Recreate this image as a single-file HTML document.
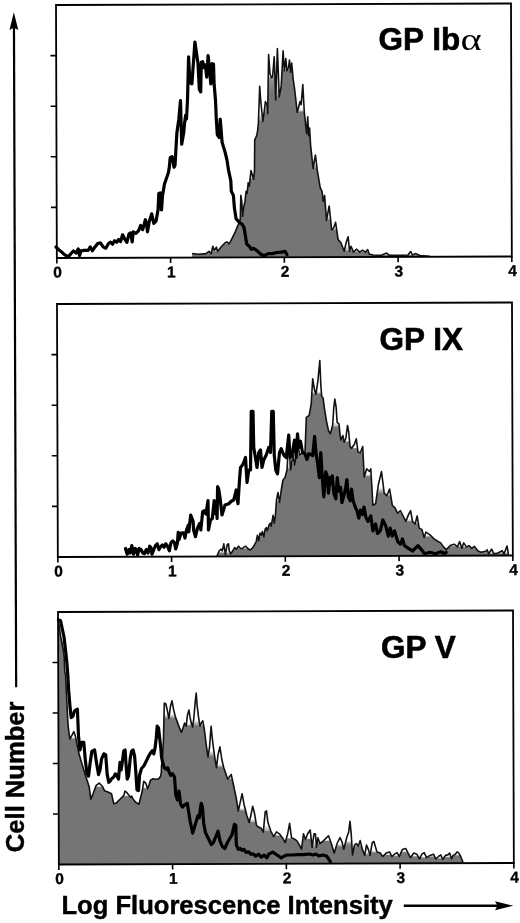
<!DOCTYPE html><html><head><meta charset="utf-8"><title>Flow cytometry histograms</title><style>html,body{margin:0;padding:0;background:#fff;width:520px;height:923px;overflow:hidden}svg{display:block}text{font-family:"Liberation Sans",Arial,Helvetica,sans-serif;font-weight:bold;fill:#000}.num{font-family:"Liberation Sans",Arial,sans-serif;font-size:15.5px;font-weight:bold;stroke:#000;stroke-width:0.35px}.lab{stroke:#000;stroke-width:0.6px}.ax{stroke:#000;stroke-width:0.45px}.ser{font-family:"Liberation Serif","Times New Roman",serif;font-weight:normal}</style></head><body>
<svg width="520" height="923" viewBox="0 0 520 923">
<defs><filter id="op" x="-5%" y="-5%" width="110%" height="110%"><feMorphology operator="erode" radius="2.6"/><feMorphology operator="dilate" radius="2.6"/></filter></defs>
<defs><clipPath id="c0"><polygon points="56,5 511,3.45 511.86,256.45 56.86,258"/></clipPath><clipPath id="c1"><polygon points="57.02,304 512.02,302.45 512.88,555.45 57.88,557"/></clipPath><clipPath id="c2"><polygon points="58.06,612 513.06,610.45 513.92,862.95 58.92,864.5"/></clipPath></defs>
<g clip-path="url(#c0)"><polygon points="192.1,265.54 192.1,253.6 198.5,254.2 205.9,253.6 209,251.4 211.2,253.6 212.8,246.2 214.3,250.4 216.4,247.2 217.5,251.4 221.7,246.2 224.9,243 227,241.9 229.1,244 231.3,239.8 233.4,235.6 235.5,231.3 237.6,226.1 239.7,221.8 240.3,218.7 240.8,195.4 241.8,201.7 242.5,216.5 243.9,206 245,201.7 246.1,191.2 247.1,193.3 248.2,182.7 249.3,186.2 251,170.6 253.6,179.3 254.5,170.6 254.7,139.9 256.5,136 257.5,131.6 258.4,123 259.7,86.2 260.8,101.5 262.8,121.5 264.3,110.8 265.4,101.5 266.9,104.6 267.7,113.8 268.6,54.6 270,73.8 271.5,77.7 272.6,76.9 274.2,56.9 275.7,100 277.4,48.5 279.2,96.9 281.2,86.2 283.1,50.8 284.3,70.8 285.8,58.5 286.9,70.8 288.5,67.7 289.5,60 290.5,72.3 291.7,63.1 293.1,78.5 294.6,89.2 295.7,98.5 297.2,112.3 298.5,107.7 300,101.5 301.2,104.6 302.8,84.6 304.3,112.3 305.8,126.2 306.7,133.8 307.7,116.9 308.7,135.8 309.6,128 310.6,145.4 313.1,168.5 315.4,155 317.3,170.4 320.2,187.7 322.1,191.5 323.1,201.2 324.6,195.4 326.5,220.4 329.2,206 331.7,230 333.7,228 335.6,222.3 338.1,239.6 340.8,242.5 344.2,251.2 346.2,242.5 348.1,236.7 349.6,251.2 351,246.3 353.5,252.1 356.7,249.2 359.6,252.1 362.5,250.2 365.4,252.1 367.7,249.6 369.2,254 373,255 380.8,255.4 386.5,253.1 389.4,255.4 400,255.4 408,255 410.7,251.5 412.5,255 415.3,253.6 420,255.5 429.8,256.2 429.8,264.73" fill="#747474" filter="url(#op)"/></g>
<polyline points="192.1,253.6 198.5,254.2 205.9,253.6 209,251.4 211.2,253.6 212.8,246.2 214.3,250.4 216.4,247.2 217.5,251.4 221.7,246.2 224.9,243 227,241.9 229.1,244 231.3,239.8 233.4,235.6 235.5,231.3 237.6,226.1 239.7,221.8 240.3,218.7 240.8,195.4 241.8,201.7 242.5,216.5 243.9,206 245,201.7 246.1,191.2 247.1,193.3 248.2,182.7 249.3,186.2 251,170.6 253.6,179.3 254.5,170.6 254.7,139.9 256.5,136 257.5,131.6 258.4,123 259.7,86.2 260.8,101.5 262.8,121.5 264.3,110.8 265.4,101.5 266.9,104.6 267.7,113.8 268.6,54.6 270,73.8 271.5,77.7 272.6,76.9 274.2,56.9 275.7,100 277.4,48.5 279.2,96.9 281.2,86.2 283.1,50.8 284.3,70.8 285.8,58.5 286.9,70.8 288.5,67.7 289.5,60 290.5,72.3 291.7,63.1 293.1,78.5 294.6,89.2 295.7,98.5 297.2,112.3 298.5,107.7 300,101.5 301.2,104.6 302.8,84.6 304.3,112.3 305.8,126.2 306.7,133.8 307.7,116.9 308.7,135.8 309.6,128 310.6,145.4 313.1,168.5 315.4,155 317.3,170.4 320.2,187.7 322.1,191.5 323.1,201.2 324.6,195.4 326.5,220.4 329.2,206 331.7,230 333.7,228 335.6,222.3 338.1,239.6 340.8,242.5 344.2,251.2 346.2,242.5 348.1,236.7 349.6,251.2 351,246.3 353.5,252.1 356.7,249.2 359.6,252.1 362.5,250.2 365.4,252.1 367.7,249.6 369.2,254 373,255 380.8,255.4 386.5,253.1 389.4,255.4 400,255.4 408,255 410.7,251.5 412.5,255 415.3,253.6 420,255.5 429.8,256.2" fill="none" stroke="#111" stroke-width="1.6" stroke-linejoin="round"/>
<polyline points="56,247 57.3,248.2 59.4,250.3 62.1,252.3 64.1,254.3 66.8,256.3 69.5,255.6 71.5,253 73.5,250.9 76.2,253 78.2,248.9 79.6,255.6 80.9,250.9 84.3,250.3 88.3,250.3 90.3,246.9 92.3,250.9 95,246.9 97.7,243.5 100.4,242.9 103.1,246.9 105.8,248.2 108.5,243.5 110.5,242.2 112.5,244.2 114.5,240.8 116.6,242.2 118.6,239.5 120.6,241.5 122.6,234.8 124.8,239.2 126.9,242.4 129,233.9 130.6,232.9 132.2,241.9 133.2,231.8 135.9,233.4 138.5,230.8 140.6,225.5 142.7,229.7 145.4,219.7 146.4,223.4 147.5,231.8 149.1,222.3 151.7,213.8 153.8,223.4 156,221.2 158.1,209.6 158.8,193.5 160.2,193 161.5,210 162.5,196 164.4,184.2 166.3,178.8 168.3,173 169.2,168.3 170.2,157.7 172.1,156.7 174,167.3 175,165.4 176,148 176.9,132.7 178.8,119.2 180.5,100.7 181.7,144.2 183.7,132.7 184.6,123 185.6,115.4 186.5,119 187.5,100 188.6,56.9 189.9,82.5 191.9,83.8 194.9,42.1 198,63.6 199.3,89.2 200.7,91.9 201.3,62.3 202.7,61.6 204,67.7 205.4,65 206.7,77.1 208.1,55.6 209.4,67.7 210.8,83.8 212.1,63.6 213.5,64.3 214.1,83.8 215.5,100 216.3,119.2 217.3,134.6 219.2,137.5 220.2,119.2 221.2,130.8 222.1,142.3 225,151.9 226.9,159.6 228.5,170 230.8,180.8 231.3,191.2 233.4,195.4 234.4,208.1 236.1,218.7 239.7,222.9 241.8,223.9 243.9,227.1 245.4,235.6 246.7,244 249.2,246.2 251.3,249.3 253.5,248.3 256.6,250.4 260.9,254.2 264,255.7 268.3,253.6 272.5,253.6 276.7,252.5 281,252.1 285.2,251.4 286.9,254.6" fill="none" stroke="#000" stroke-width="3.2" stroke-linejoin="round" stroke-linecap="round"/>
<g clip-path="url(#c1)"><polygon points="216.9,564.45 216.9,556.2 219.2,550.8 221.1,549.2 222.3,550.8 223.8,543.8 225.4,554.6 227.2,544.6 228.5,543.8 229.2,550.8 230.8,553.8 232.8,550.8 234.6,547.7 236.5,549.2 238.5,546.2 240.5,548.5 242.6,548.5 244.2,546.9 245.7,546.2 247.7,548.5 250.3,550 252.8,547.7 254.6,544.6 256.2,541.5 257.4,535.4 258.6,540.8 260,533.1 261.5,535.4 262.3,531.5 263.8,536.9 265.1,529.2 266.3,527.7 267.2,530.8 269.2,524.6 270.3,523.1 271.2,526.2 273.1,515.4 274.3,523.1 275.4,515.4 276.5,500 278,492.5 279.5,502.5 281.25,490 283,480 285,477.5 287,470 288.75,440 290.5,470 293,455 294.5,465 296.25,455 297.5,440 299.5,455 302.5,452.5 305,452.5 306.3,417.3 309.2,415.4 311.2,403.8 312.7,378.8 314.6,390.4 316,394.2 317.9,380.8 319.8,360.6 320.8,384.6 321.7,396.2 323.1,398.1 324.6,409.6 326.5,421.2 328.5,430.8 330.4,433.7 332.7,425 333.8,407.7 334.8,399 336.2,407.7 337.1,422.1 339,424 340,434.6 341,440 342.9,435.6 344.2,442.3 345.8,438.5 347.5,425.5 348.7,432 350,446.2 351.5,448.5 354.4,444.2 356.3,438.8 358,452 360.4,452.7 362.7,446.5 364.2,477 366.7,468.8 369.4,471.5 370.8,468.8 372.9,505.2 375.6,503.8 378.3,485 381.5,471.5 384.2,493.1 386.9,495.8 389.6,489 392.3,505.2 395,507.9 397.7,513.3 400.4,510.6 403.1,516 405.8,521.4 408.5,514.6 410.6,510.6 412.5,521.4 415.2,524 417.1,516 419.2,528.1 421.9,529.4 424.1,537.5 426,532.1 430,534.8 434,538.9 438.1,541.5 440.8,542.9 443.5,546.9 446.2,549.6 450.2,545.6 454.2,544.2 457.5,546.9 459.6,541.5 461.8,548.3 463.7,542.9 466.4,546.9 469,545.6 471.7,548.3 474.3,546.3 478,551 481.2,552.3 486.5,551 487.1,549.7 488.7,553.7 491.6,549.2 493.8,553.7 498,553 502.2,550.7 504,554 507,546 508.5,554.5 508.5,563.46" fill="#747474" filter="url(#op)"/></g>
<polyline points="216.9,556.2 219.2,550.8 221.1,549.2 222.3,550.8 223.8,543.8 225.4,554.6 227.2,544.6 228.5,543.8 229.2,550.8 230.8,553.8 232.8,550.8 234.6,547.7 236.5,549.2 238.5,546.2 240.5,548.5 242.6,548.5 244.2,546.9 245.7,546.2 247.7,548.5 250.3,550 252.8,547.7 254.6,544.6 256.2,541.5 257.4,535.4 258.6,540.8 260,533.1 261.5,535.4 262.3,531.5 263.8,536.9 265.1,529.2 266.3,527.7 267.2,530.8 269.2,524.6 270.3,523.1 271.2,526.2 273.1,515.4 274.3,523.1 275.4,515.4 276.5,500 278,492.5 279.5,502.5 281.25,490 283,480 285,477.5 287,470 288.75,440 290.5,470 293,455 294.5,465 296.25,455 297.5,440 299.5,455 302.5,452.5 305,452.5 306.3,417.3 309.2,415.4 311.2,403.8 312.7,378.8 314.6,390.4 316,394.2 317.9,380.8 319.8,360.6 320.8,384.6 321.7,396.2 323.1,398.1 324.6,409.6 326.5,421.2 328.5,430.8 330.4,433.7 332.7,425 333.8,407.7 334.8,399 336.2,407.7 337.1,422.1 339,424 340,434.6 341,440 342.9,435.6 344.2,442.3 345.8,438.5 347.5,425.5 348.7,432 350,446.2 351.5,448.5 354.4,444.2 356.3,438.8 358,452 360.4,452.7 362.7,446.5 364.2,477 366.7,468.8 369.4,471.5 370.8,468.8 372.9,505.2 375.6,503.8 378.3,485 381.5,471.5 384.2,493.1 386.9,495.8 389.6,489 392.3,505.2 395,507.9 397.7,513.3 400.4,510.6 403.1,516 405.8,521.4 408.5,514.6 410.6,510.6 412.5,521.4 415.2,524 417.1,516 419.2,528.1 421.9,529.4 424.1,537.5 426,532.1 430,534.8 434,538.9 438.1,541.5 440.8,542.9 443.5,546.9 446.2,549.6 450.2,545.6 454.2,544.2 457.5,546.9 459.6,541.5 461.8,548.3 463.7,542.9 466.4,546.9 469,545.6 471.7,548.3 474.3,546.3 478,551 481.2,552.3 486.5,551 487.1,549.7 488.7,553.7 491.6,549.2 493.8,553.7 498,553 502.2,550.7 504,554 507,546 508.5,554.5" fill="none" stroke="#111" stroke-width="1.6" stroke-linejoin="round"/>
<polyline points="125.5,548.5 127.2,554.2 128.9,549.6 130.1,553.1 131.8,545.6 133.5,554.2 135.3,548.5 136.4,549.6 137.6,554.8 139.3,548.5 141,549.6 142.8,553.1 144.5,553.7 146.2,549.6 148,553.1 149.7,546.2 150.8,547.3 152,554.2 153.7,549.6 155.5,545.6 157.2,543.8 158.9,549.6 160.7,546.7 162.4,545 164.1,547.3 165.8,543.8 167.6,546.2 169.3,550.8 171,542.7 172.8,541 174.5,542.7 175.7,549 177.4,543.3 178.2,532.4 179.1,539.6 181,533 183.5,532.9 185,538 186.5,530 188.3,525.2 188.8,531.9 190.7,515.1 193.1,521.3 193.6,530 195.5,536.7 197.4,528.1 199.8,523.3 200.8,530 202.7,511.7 204.1,510.8 206,514 208,500.7 208.5,530 210.5,520 212.3,518.5 214.2,500.7 215.2,513.7 216.2,502.1 217.1,518.5 217.6,486.7 218.6,488.7 220,497.5 222,515 225,505 228.75,503.75 231.25,501.25 233.75,500 236.25,490 238,503.75 239.5,480 240.5,467.5 242.5,465 243.75,462.5 245.5,457.5 247,482.5 248.75,470 250.5,470 251.25,411.25 253,411.25 253.75,447.5 255,455 257,467.5 258.75,452.5 260.5,450 262,467.5 263.75,460 266.25,455 268.75,447.5 270.5,452.5 271.75,411.25 273.25,411.25 274.25,455 275.75,470 277.5,473.75 279.5,452.5 281.25,448.75 283.75,455 286.25,457.5 288.75,435 290,457.5 292,455 294.5,440 296.25,457.5 297.5,433.75 298.75,447.5 300.5,441.25 302.5,452.5 305,453.75 306.9,459.4 308.8,453.7 310.8,454.6 312.7,455.6 314.6,436.3 316.2,454.6 317.5,462.3 319.4,477.7 320.8,452.7 322.3,477.7 323.8,496.9 325.8,471.9 327.1,475.8 328.5,493.1 330,477.7 331.5,483.5 332.3,475.8 333.8,493.1 335.8,498.8 337.3,477.7 338.7,491.2 340.6,487.3 341.9,502.7 343.5,496.9 345.4,489.2 346.9,479.6 348.3,496.9 350.2,500.8 351.5,489.2 353.1,500.8 355.4,507.5 356.9,510.4 358.8,518.1 360.5,510 362.7,514.6 364,507 365.9,517.3 368.1,521.4 370.8,516 372.9,530.8 375.6,524 377.5,533.5 380.2,530.8 382.9,520 385.6,525.4 388.3,536.2 390.2,528.1 392.3,536.2 394.5,530.8 397.7,541.5 400.4,544.2 402.5,538.9 404.4,545.6 408.5,548.3 412.5,551 415.2,548.3 417.9,545.6 421.4,549.6 424.6,553.7 430,552.3 435.4,553.7 440.8,551.8 444.8,553.7 446.2,552.3" fill="none" stroke="#000" stroke-width="3.2" stroke-linejoin="round" stroke-linecap="round"/>
<g clip-path="url(#c2)"><polygon points="50,872.52 50,620 58.3,620 59.5,628 60.5,636 61.8,642 63.2,649.5 64.2,657 64.8,672.6 65.5,674 66.6,696.5 68,724.7 69.4,736 70,739.2 72.3,734.6 73.8,731.5 75.4,736.2 76.9,743.8 79.2,754.6 81.5,762.3 83.8,770 86.2,777.7 88.2,783.8 89.2,787 90.8,799.2 93.1,793.8 96.2,785.4 99.2,783.1 102.3,786.2 104.6,790.8 108.5,792.3 111.5,793.8 113.8,803.8 116.2,803.1 119.2,800 121.5,797.7 123.8,795.4 125,791 126.9,792.7 128.8,795.1 130.8,797.5 131.7,796.1 132.7,798.5 135.6,802.3 138.9,804.2 140.9,796.5 142.3,790.8 143.8,781.2 145.7,783.1 147.6,788.8 149,785 150.5,780.2 152.9,778.8 155.8,779.2 158.7,778.8 160.6,776.3 161.3,772.5 161.5,765.8 162.3,760 163.4,741.5 164.3,703.1 165.8,703.8 167.4,710.8 168.9,718.5 170.5,706.2 172,700.8 173.5,709.2 175.4,716.9 177.7,723.1 180,729.2 181.5,732.3 183.1,727.7 184.6,723.1 186.2,726.2 187.4,715.4 188.9,710 190,716.9 191.2,723.1 192.6,726.9 193.8,718.5 195.1,703.1 196.2,693.1 197.2,706.2 198.5,716.9 200,726.2 201.2,723.1 202.8,720.8 204.3,729.2 206.2,744.6 208,756.9 209.5,747.7 211.1,726.2 212.3,738.5 213.8,750.8 215.2,760 216.5,767.7 218,755 219.9,746.9 221.9,760 223.8,767.7 227.7,779.2 231.2,774.5 233.5,785 236.3,798.5 238.3,811 240.2,802.3 242.1,793.7 244,804.2 246.9,815.8 249.2,822.5 250.8,815.8 252.7,806.2 254.6,813.8 256.5,825.4 258.8,827.3 261.3,828.3 263.3,832.1 265.2,811.9 266.5,810.8 267.9,822.3 270.8,831 273.7,836.7 276.5,831.9 279.4,833.8 282.3,837.7 285.2,842.5 287.7,833.8 289.6,823.3 291.5,837.7 293.8,838.7 296.7,840.6 299.6,845.4 301.5,849.2 303.5,833.8 305.4,839.6 307.7,833.8 310.2,830 312.1,847.3 314,833.8 315.4,833.8 316.5,847.3 317.9,837.7 319.8,843.5 322.7,841.5 325.6,838.7 328.5,835.8 331.3,843.5 334.2,853.1 337.1,843.5 340,837.7 341.9,841.5 343.8,849.2 346.7,837.7 348.7,831.9 350,821.3 351.2,833.8 352.5,855 354.4,845.4 356.3,843.5 358.3,846.3 360.2,840.6 362.4,849.6 364.7,855.4 366.5,845 368.4,849.6 370,855.4 372.3,842.7 373.9,841.5 376.9,851.9 380.4,853.1 382.7,856.5 386.2,853.1 389.6,851.9 391.9,856.5 394.7,854.2 397,852.6 399.3,856.5 402.3,849.6 405.8,848.5 408.1,853.1 410.4,857.7 413.8,853.1 416.8,854.2 419.6,858.8 421.9,854.2 424.2,852.6 426.5,857.7 430,855.4 433.5,854.2 435.8,858.8 438.5,856.5 440.8,854.9 442.7,859.5 445.5,855.4 447.8,854.9 449.6,853.1 451.5,858.8 453.1,855.4 455.4,854.2 457,851.9 458.8,853.1 460.7,856.5 463,862.3 463,871.12" fill="#747474" filter="url(#op)"/></g>
<polyline points="58.3,620 59.5,628 60.5,636 61.8,642 63.2,649.5 64.2,657 64.8,672.6 65.5,674 66.6,696.5 68,724.7 69.4,736 70,739.2 72.3,734.6 73.8,731.5 75.4,736.2 76.9,743.8 79.2,754.6 81.5,762.3 83.8,770 86.2,777.7 88.2,783.8 89.2,787 90.8,799.2 93.1,793.8 96.2,785.4 99.2,783.1 102.3,786.2 104.6,790.8 108.5,792.3 111.5,793.8 113.8,803.8 116.2,803.1 119.2,800 121.5,797.7 123.8,795.4 125,791 126.9,792.7 128.8,795.1 130.8,797.5 131.7,796.1 132.7,798.5 135.6,802.3 138.9,804.2 140.9,796.5 142.3,790.8 143.8,781.2 145.7,783.1 147.6,788.8 149,785 150.5,780.2 152.9,778.8 155.8,779.2 158.7,778.8 160.6,776.3 161.3,772.5 161.5,765.8 162.3,760 163.4,741.5 164.3,703.1 165.8,703.8 167.4,710.8 168.9,718.5 170.5,706.2 172,700.8 173.5,709.2 175.4,716.9 177.7,723.1 180,729.2 181.5,732.3 183.1,727.7 184.6,723.1 186.2,726.2 187.4,715.4 188.9,710 190,716.9 191.2,723.1 192.6,726.9 193.8,718.5 195.1,703.1 196.2,693.1 197.2,706.2 198.5,716.9 200,726.2 201.2,723.1 202.8,720.8 204.3,729.2 206.2,744.6 208,756.9 209.5,747.7 211.1,726.2 212.3,738.5 213.8,750.8 215.2,760 216.5,767.7 218,755 219.9,746.9 221.9,760 223.8,767.7 227.7,779.2 231.2,774.5 233.5,785 236.3,798.5 238.3,811 240.2,802.3 242.1,793.7 244,804.2 246.9,815.8 249.2,822.5 250.8,815.8 252.7,806.2 254.6,813.8 256.5,825.4 258.8,827.3 261.3,828.3 263.3,832.1 265.2,811.9 266.5,810.8 267.9,822.3 270.8,831 273.7,836.7 276.5,831.9 279.4,833.8 282.3,837.7 285.2,842.5 287.7,833.8 289.6,823.3 291.5,837.7 293.8,838.7 296.7,840.6 299.6,845.4 301.5,849.2 303.5,833.8 305.4,839.6 307.7,833.8 310.2,830 312.1,847.3 314,833.8 315.4,833.8 316.5,847.3 317.9,837.7 319.8,843.5 322.7,841.5 325.6,838.7 328.5,835.8 331.3,843.5 334.2,853.1 337.1,843.5 340,837.7 341.9,841.5 343.8,849.2 346.7,837.7 348.7,831.9 350,821.3 351.2,833.8 352.5,855 354.4,845.4 356.3,843.5 358.3,846.3 360.2,840.6 362.4,849.6 364.7,855.4 366.5,845 368.4,849.6 370,855.4 372.3,842.7 373.9,841.5 376.9,851.9 380.4,853.1 382.7,856.5 386.2,853.1 389.6,851.9 391.9,856.5 394.7,854.2 397,852.6 399.3,856.5 402.3,849.6 405.8,848.5 408.1,853.1 410.4,857.7 413.8,853.1 416.8,854.2 419.6,858.8 421.9,854.2 424.2,852.6 426.5,857.7 430,855.4 433.5,854.2 435.8,858.8 438.5,856.5 440.8,854.9 442.7,859.5 445.5,855.4 447.8,854.9 449.6,853.1 451.5,858.8 453.1,855.4 455.4,854.2 457,851.9 458.8,853.1 460.7,856.5 463,862.3" fill="none" stroke="#111" stroke-width="1.6" stroke-linejoin="round"/>
<polyline points="58.5,620 60.5,620.5 62.3,629 64,637 65.5,650 66.8,662 67.8,675 68.7,690.9 70.1,707.8 71.2,717.6 72.9,716.2 74.6,710.8 77.4,709.2 78.5,736.2 80,750 81.5,742.3 83.8,742.3 85.4,760.8 86.9,773.1 88.5,776.2 90,763.8 91.8,751.5 94.6,750 96.2,760.8 98.5,774.6 100,770 101.5,759.2 103.8,753.8 105.7,754.6 107.2,774.6 108.8,782.3 110.3,780.8 111.8,778.5 113.8,776.9 115.4,773.8 116.9,775.4 118.5,779.2 120,762.3 121.1,770 122.3,762.3 123.8,750.8 125.1,750 126.2,766.9 127.2,779.2 128.5,776.2 130.3,757.7 131.5,751.5 133.1,750 134.6,756.2 135.8,771.5 137,790 138.5,790.5 139.6,775 141.5,768.5 143.8,766 146.2,761.2 148.5,756.5 150,753.8 151.1,752.3 152.3,750.8 153.8,753.8 155.1,747.7 156.2,738.5 157.2,726.2 158.5,727.7 159.7,738.5 160.8,747.7 161.5,756.9 162.8,763.1 164.3,767.7 166.2,769.2 167.7,767.7 169.2,772.3 170.8,775.4 172.6,773.8 174.5,777 175.8,795 177.5,800 179,791 180.6,804.2 182.5,807.1 185.4,804.2 187.3,803.3 190.2,821.5 192.7,833.1 195,825.4 197.9,815.8 199.2,817.7 201.2,803.3 202.3,806.2 203.7,823.5 205.6,833.1 208.5,838.8 211.3,844.6 213.3,842.7 215.8,836.9 218.1,831.2 220,840.8 222.3,846.5 224.8,848.5 227.3,842.7 229.6,838.8 231.9,835 234.4,824.4 235.8,825.4 236.3,844.6 238.3,849.4 240.2,848.5 242.1,850.4 244,849.4 246,852.3 248.8,851.9 250.8,854.2 253.7,854.2 255.6,856.2 258.5,854.2 261.3,857.1 264.2,855.2 266.9,857.9 268.8,854 270.8,853.1 272.7,852.1 275.6,854 278.5,856 281.3,857.9 284.2,856 287.1,855 291.9,855 297.7,854.6 303.5,854.6 309.2,854 313.1,855 316,854 318.8,856 322.7,855 326.5,856 328.5,858.8 330.4,861.7" fill="none" stroke="#000" stroke-width="3.2" stroke-linejoin="round" stroke-linecap="round"/>
<g transform="rotate(-0.19 56 5)">
<path d="M56 5H511V258H56Z" fill="none" stroke="#000" stroke-width="1.8" stroke-linejoin="miter"/>
<path d="M50.3 207.4H56M50.3 156.8H56M50.3 106.2H56M50.3 55.6H56M56 258V263.5M169.75 258V263.5M283.5 258V263.5M397.25 258V263.5M511 258V263.5" stroke="#000" stroke-width="1.6" fill="none"/>
<text class="num" x="56.7" y="277.5" text-anchor="middle">0</text>
<text class="num" x="170.45" y="277.5" text-anchor="middle">1</text>
<text class="num" x="284.2" y="277.5" text-anchor="middle">2</text>
<text class="num" x="397.95" y="277.5" text-anchor="middle">3</text>
<text class="num" x="511.7" y="277.5" text-anchor="middle">4</text>
<path d="M56 304H511V557H56Z" fill="none" stroke="#000" stroke-width="1.8" stroke-linejoin="miter"/>
<path d="M50.3 506.4H56M50.3 455.8H56M50.3 405.2H56M50.3 354.6H56M56 557V562.5M169.75 557V562.5M283.5 557V562.5M397.25 557V562.5M511 557V562.5" stroke="#000" stroke-width="1.6" fill="none"/>
<text class="num" x="56.7" y="576.5" text-anchor="middle">0</text>
<text class="num" x="170.45" y="576.5" text-anchor="middle">1</text>
<text class="num" x="284.2" y="576.5" text-anchor="middle">2</text>
<text class="num" x="397.95" y="576.5" text-anchor="middle">3</text>
<text class="num" x="511.7" y="576.5" text-anchor="middle">4</text>
<path d="M56 612H511V864.5H56Z" fill="none" stroke="#000" stroke-width="1.8" stroke-linejoin="miter"/>
<path d="M50.3 814H56M50.3 763.5H56M50.3 713H56M50.3 662.5H56M56 864.5V870M169.75 864.5V870M283.5 864.5V870M397.25 864.5V870M511 864.5V870" stroke="#000" stroke-width="1.6" fill="none"/>
<text class="num" x="56.7" y="884" text-anchor="middle">0</text>
<text class="num" x="170.45" y="884" text-anchor="middle">1</text>
<text class="num" x="284.2" y="884" text-anchor="middle">2</text>
<text class="num" x="397.95" y="884" text-anchor="middle">3</text>
<text class="num" x="511.7" y="884" text-anchor="middle">4</text>
<path d="M13.9 27V687" stroke="#000" stroke-width="2.2"/>
<path d="M13.8 12.2L18.2 29.8L13.8 27.6L9.4 29.8Z" fill="#000"/>
</g>
<text class="lab" x="378.6" y="50.4" font-size="31.5">GP Ib</text>
<text class="ser" transform="translate(460.5 50.4) scale(1.3 1)" font-size="31">α</text>
<text class="lab" x="379.5" y="349.6" font-size="31.5">GP IX</text>
<text class="lab" x="381.1" y="657.7" font-size="31.5">GP V</text>
<text class="ax" transform="translate(23.5 852.2) rotate(-90)" font-size="25.6">Cell Number</text>
<text class="ax" x="61.4" y="913.7" font-size="25.6">Log Fluorescence Intensity</text>
<path d="M403.8 905.8H498" stroke="#000" stroke-width="2.4"/>
<path d="M513.3 905.8L495 901.3L497.5 905.8L495 910.3Z" fill="#000"/>
</svg></body></html>
